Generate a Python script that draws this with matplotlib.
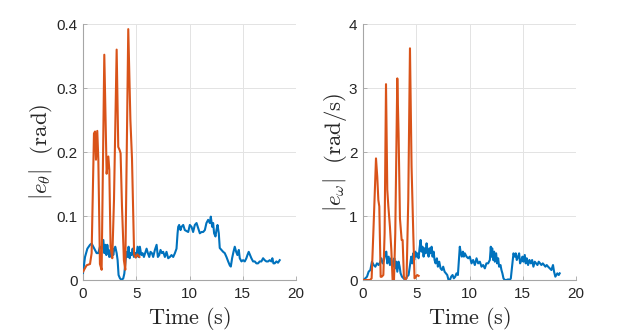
import matplotlib
matplotlib.use("Agg")
import matplotlib.pyplot as plt

plt.rcParams['mathtext.fontset'] = 'cm'
plt.rcParams['font.family'] = ['Liberation Sans', 'DejaVu Sans']

# ---- data: |e_theta| (rad) ----
th_blue_t = [0.0, 0.19, 0.41, 0.66, 0.81, 0.97, 1.13, 1.28, 1.44, 1.59, 1.75, 1.91, 2.0, 2.09, 2.19, 2.28,
             2.38, 2.47, 2.56, 2.66, 2.75, 2.84, 2.94, 3.03, 3.16, 3.25, 3.34, 3.47, 3.63, 3.78, 3.88, 4.0,
             4.09, 4.19, 4.28, 4.38, 4.47, 4.56, 4.66, 4.78, 4.91, 5.0, 5.13, 5.22, 5.34, 5.47, 5.59, 5.72,
             5.84, 5.97, 6.09, 6.22, 6.34, 6.47, 6.59, 6.75, 6.91, 7.03, 7.16, 7.28, 7.41, 7.53, 7.69, 7.84,
             8.0, 8.16, 8.31, 8.47, 8.63, 8.78, 8.88, 8.94, 9.03, 9.16, 9.25, 9.41, 9.56, 9.88, 10.03, 10.19,
             10.34, 10.5, 10.66, 10.81, 10.97, 11.13, 11.28, 11.44, 11.59, 11.75, 11.91, 12.0, 12.13, 12.22,
             12.31, 12.44, 12.53, 12.63, 12.75, 12.84, 13.0, 13.16, 13.31, 13.47, 13.63, 13.78, 13.88, 14.0,
             14.13, 14.25, 14.38, 14.5, 14.63, 14.72, 14.88, 15.03, 15.19, 15.34, 15.44, 15.56, 15.69, 15.81,
             15.97, 16.13, 16.28, 16.44, 16.59, 16.75, 16.91, 17.06, 17.22, 17.38, 17.53, 17.69, 17.78, 17.88,
             18.0, 18.16, 18.31, 18.47]
th_blue_v = [0.011, 0.036, 0.049, 0.055, 0.057, 0.052, 0.047, 0.042, 0.042, 0.052, 0.049, 0.0625, 0.042, 0.055,
             0.039, 0.055, 0.044, 0.036, 0.047, 0.036, 0.049, 0.039, 0.049, 0.052, 0.042, 0.031, 0.0078, 0.0026,
             0.0, 0.0026, 0.010, 0.031, 0.044, 0.036, 0.052, 0.034, 0.042, 0.039, 0.049, 0.036, 0.042, 0.036,
             0.052, 0.036, 0.052, 0.039, 0.042, 0.036, 0.042, 0.049, 0.042, 0.036, 0.044, 0.042, 0.036, 0.047,
             0.055, 0.036, 0.039, 0.047, 0.042, 0.044, 0.036, 0.044, 0.034, 0.036, 0.039, 0.036, 0.042, 0.049,
             0.073, 0.083, 0.086, 0.078, 0.083, 0.086, 0.078, 0.075, 0.086, 0.083, 0.075, 0.086, 0.089, 0.081,
             0.073, 0.075, 0.075, 0.078, 0.089, 0.094, 0.089, 0.099, 0.083, 0.089, 0.073, 0.068, 0.078, 0.086,
             0.073, 0.050, 0.047, 0.044, 0.042, 0.036, 0.029, 0.023, 0.021, 0.034, 0.044, 0.052, 0.044, 0.039,
             0.047, 0.034, 0.029, 0.031, 0.029, 0.034, 0.039, 0.044, 0.039, 0.034, 0.029, 0.029, 0.026, 0.026,
             0.029, 0.029, 0.034, 0.031, 0.029, 0.029, 0.031, 0.029, 0.034, 0.026, 0.026, 0.029, 0.027, 0.031]

th_orange_t = [0.0, 0.34, 0.66, 0.81, 1.03, 1.13, 1.22, 1.34, 1.44, 1.59, 1.75, 2.0, 2.22, 2.38, 2.47, 2.59,
               2.75, 2.91, 3.16, 3.31, 3.44, 3.53, 3.66, 3.84, 3.97, 4.09, 4.25, 4.45, 4.6, 4.72, 4.8, 4.95,
               5.1, 5.3]
th_orange_v = [0.013, 0.023, 0.025, 0.042, 0.229, 0.232, 0.188, 0.233, 0.188, 0.025, 0.016, 0.352, 0.166,
               0.193, 0.172, 0.052, 0.034, 0.125, 0.36, 0.208, 0.203, 0.198, 0.115, 0.031, 0.016, 0.177,
               0.392, 0.25, 0.19, 0.10, 0.04, 0.035, 0.04, 0.036]

# ---- data: |e_omega| (rad/s) ----
om_blue_t = [0.06, 0.375, 0.53, 0.69, 0.84, 1.0, 1.16, 1.31, 1.47, 1.63, 1.72, 1.84, 1.97, 2.09, 2.19, 2.28,
             2.41, 2.53, 2.63, 2.72, 2.84, 2.94, 3.03, 3.13, 3.22, 3.34, 3.44, 3.53, 3.66, 3.81, 3.97, 4.13,
             4.28, 4.44, 4.53, 4.63, 4.72, 4.81, 4.91, 5.0, 5.09, 5.22, 5.31, 5.41, 5.5, 5.59, 5.69, 5.78,
             5.88, 5.97, 6.06, 6.16, 6.25, 6.34, 6.44, 6.53, 6.63, 6.72, 6.81, 6.94, 7.03, 7.16, 7.28, 7.41,
             7.53, 7.66, 7.78, 7.91, 8.03, 8.16, 8.28, 8.41, 8.53, 8.66, 8.78, 8.91, 9.0, 9.09, 9.19, 9.28,
             9.38, 9.47, 9.56, 9.72, 9.88, 10.03, 10.19, 10.34, 10.5, 10.66, 10.81, 10.97, 11.13, 11.28, 11.44,
             11.59, 11.75, 11.91, 12.0, 12.06, 12.13, 12.22, 12.31, 12.38, 12.5, 12.59, 12.69, 12.78, 12.91,
             13.0, 13.09, 13.19, 13.31, 13.47, 13.63, 13.78, 13.88, 14.0, 14.13, 14.25, 14.34, 14.44, 14.56,
             14.66, 14.75, 14.88, 14.97, 15.06, 15.19, 15.28, 15.38, 15.5, 15.63, 15.75, 15.88, 16.0, 16.13,
             16.25, 16.38, 16.5, 16.63, 16.75, 16.88, 17.0, 17.13, 17.25, 17.38, 17.53, 17.69, 17.84, 17.94,
             18.06, 18.16, 18.25, 18.38, 18.47]
om_blue_v = [0.0, 0.052, 0.13, 0.156, 0.286, 0.234, 0.208, 0.26, 0.234, 0.286, 0.339, 0.26, 0.3125, 0.417,
             0.443, 0.26, 0.365, 0.234, 0.339, 0.286, 0.208, 0.339, 0.182, 0.286, 0.13, 0.286, 0.208, 0.104,
             0.052, 0.026, 0.0, 0.052, 0.078, 0.26, 0.365, 0.26, 0.417, 0.3125, 0.443, 0.365, 0.417, 0.339,
             0.495, 0.625, 0.443, 0.52, 0.365, 0.495, 0.417, 0.573, 0.443, 0.365, 0.495, 0.417, 0.52, 0.365,
             0.443, 0.3125, 0.26, 0.339, 0.208, 0.286, 0.182, 0.156, 0.208, 0.13, 0.104, 0.078, 0.0, 0.0,
             0.052, 0.078, 0.026, 0.052, 0.104, 0.078, 0.3125, 0.52, 0.417, 0.365, 0.443, 0.365, 0.417, 0.365,
             0.339, 0.365, 0.26, 0.3125, 0.234, 0.339, 0.26, 0.286, 0.208, 0.234, 0.182, 0.26, 0.26, 0.3125,
             0.52, 0.365, 0.495, 0.3125, 0.443, 0.286, 0.417, 0.26, 0.339, 0.208, 0.234, 0.156, 0.104, 0.026,
             0.0, 0.0, 0.01, 0.0, 0.026, 0.208, 0.417, 0.365, 0.417, 0.3125, 0.365, 0.417, 0.26, 0.3125,
             0.365, 0.286, 0.391, 0.26, 0.339, 0.234, 0.3125, 0.26, 0.3125, 0.208, 0.286, 0.26, 0.234, 0.286,
             0.26, 0.234, 0.26, 0.234, 0.208, 0.234, 0.208, 0.182, 0.156, 0.234, 0.13, 0.052, 0.078, 0.104,
             0.078, 0.104]

om_orange_t = [0.0, 0.34, 0.66, 0.81, 0.97, 1.22, 1.34, 1.44, 1.53, 1.66, 1.75, 1.91, 2.03, 2.16, 2.28, 2.38,
               2.53, 2.66, 2.78, 2.91, 3.03, 3.22, 3.34, 3.47, 3.63, 3.72, 3.84, 3.94, 4.09, 4.25, 4.41, 4.56,
               4.72, 4.84, 4.97, 5.09, 5.22]
om_orange_v = [0.0, 0.0, 0.0, 0.026, 0.73, 1.90, 1.61, 1.25, 1.15, 0.05, 0.05, 0.078, 0.73, 3.06, 1.41, 1.15,
               0.83, 0.47, 0.0, 0.0, 0.73, 3.15, 2.29, 0.96, 0.625, 0.625, 0.05, 0.01, 0.026, 1.25, 3.62, 1.77,
               0.73, 0.026, 0.05, 0.078, 0.065]

x_ticks = [0, 5, 10, 15, 20]
th_ticks = [0, 0.1, 0.2, 0.3, 0.4]
om_ticks = [0, 1, 2, 3, 4]

BLUE = '#0072BD'
ORANGE = '#D95319'

fig = plt.figure(figsize=(6.37, 3.32), dpi=100)
ax1 = fig.add_axes([83/637, 1-280/332, 213/637, 256/332])
ax2 = fig.add_axes([363/637, 1-280/332, 213/637, 256/332])

panels = [
    (ax1, th_blue_t, th_blue_v, th_orange_t, th_orange_v, th_ticks, ['0', '0.1', '0.2', '0.3', '0.4'],
     r'$|e_\theta|\ \ (\mathrm{rad})$', 1),
    (ax2, om_blue_t, om_blue_v, om_orange_t, om_orange_v, om_ticks, ['0', '1', '2', '3', '4'],
     r'$|e_\omega|\ \ (\mathrm{rad/s})$', 0),
]

for ax, bt, bv, ot, ov, yt, ytl, ylab, lp in panels:
    ax.plot(bt, bv, color=BLUE, lw=1.5, zorder=3)
    ax.plot(ot, ov, color=ORANGE, lw=1.5, zorder=4)
    ax.set_xlim(0, 20)
    ax.set_ylim(yt[0], yt[-1])
    ax.set_xticks(x_ticks)
    ax.set_xticklabels([str(v) for v in x_ticks])
    ax.set_yticks(yt)
    ax.set_yticklabels(ytl)
    ax.grid(True, color='#e3e3e3', lw=0.7)
    ax.set_axisbelow(True)
    for s in ['top', 'right']:
        ax.spines[s].set_visible(False)
    for s in ['left', 'bottom']:
        ax.spines[s].set_color('#a6a6a6')
        ax.spines[s].set_linewidth(0.8)
    ax.tick_params(direction='in', length=3, width=0.6, color='#a6a6a6',
                   labelsize=11, labelcolor='#262626')
    ax.tick_params(axis='x', pad=5)
    ax.tick_params(axis='y', pad=4)
    ax.set_xlabel(r'$\mathrm{Time\ (s)}$', fontsize=16, color='#262626', labelpad=3)
    ax.set_ylabel(ylab, fontsize=16.5, color='#262626', labelpad=lp)

fig.savefig('out.png', dpi=100)
